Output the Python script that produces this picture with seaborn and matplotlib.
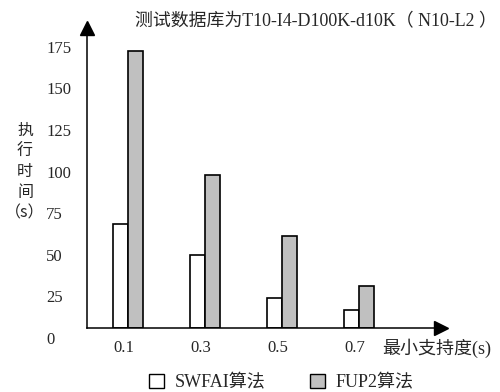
import matplotlib
matplotlib.use("Agg")
import matplotlib.pyplot as plt
from matplotlib.patches import Patch
from matplotlib.transforms import ScaledTranslation
import pandas as pd
import seaborn as sns

# data (seconds, from the x-axis line)
supports = ["0.1", "0.3", "0.5", "0.7"]
swfai = [62.5, 44, 18, 11]
fup2 = [166.5, 92, 55.3, 25.2]
algos = ["SWFAI算法", "FUP2算法"]
y_ticks = [0, 25, 50, 75, 100, 125, 150, 175]

df = pd.DataFrame({
    "support": supports * 2,
    "time": swfai + fup2,
    "algo": [algos[0]] * 4 + [algos[1]] * 4,
})

sns.set_style("white")
fam = ["Liberation Serif", "Noto Sans CJK SC"]
plt.rcParams["font.family"] = fam

fig = plt.figure(figsize=(5, 3.92), dpi=100)
ax = fig.add_axes([0.174, 0.1633, 0.708, 0.7653])

colors = ["white", "#c0c0c0"]
sns.barplot(data=df, x="support", y="time", hue="algo", hue_order=algos,
            palette=colors, edgecolor="black", linewidth=1.2, width=0.39,
            saturation=1, legend=False, ax=ax)

ax.set_xlim(-0.532, 4.065)
ax.set_ylim(0, 180.3)

for s in ["top", "right"]:
    ax.spines[s].set_visible(False)
for s in ["left", "bottom"]:
    ax.spines[s].set_color("black")
    ax.spines[s].set_linewidth(1.1)

# arrow heads on the axes
ax.plot(0, 1, "^k", ms=10, transform=ax.transAxes, clip_on=False)
ax.plot(1, 0, ">k", ms=10, transform=ax.transAxes, clip_on=False)

ax.set_yticks(y_ticks)
ax.set_yticklabels([str(t) for t in y_ticks])
ax.tick_params(axis="y", length=0, pad=29.5, labelsize=12)
ax.tick_params(axis="x", length=0, pad=9, labelsize=12)
off = ScaledTranslation(0, -10 / 100, fig.dpi_scale_trans)
for lbl in ax.get_yticklabels():
    lbl.set_ha("left")
    lbl.set_transform(lbl.get_transform() + off)
xoff = ScaledTranslation(-4 / 100, 0, fig.dpi_scale_trans)
for lbl in ax.get_xticklabels():
    lbl.set_transform(lbl.get_transform() + xoff)

ax.set_xlabel("最小支持度(s)", fontsize=13, ha="left", va="center")
ax.xaxis.set_label_coords(0.833, -0.067)
ax.set_ylabel("执\n行\n时\n间\n（s）", rotation=0, fontsize=11.5,
              ha="center", va="center", linespacing=1.28,
              family=["Noto Sans CJK SC", "Liberation Serif"])
ax.yaxis.set_label_coords(-0.175, 0.52)

fig.text(0.632, 0.944, "测试数据库为T10-I4-D100K-d10K（ N10-L2 ）",
         ha="center", va="center", fontsize=12.9)

handles = [Patch(facecolor=c, edgecolor="black", linewidth=1.0) for c in colors]
fig.legend(handles, algos, loc="center", bbox_to_anchor=(0.563, 0.023),
           ncol=2, frameon=False, fontsize=13, handlelength=0.8,
           handleheight=0.8, handletextpad=0.6, columnspacing=2.5,
           borderaxespad=0, borderpad=0)

fig.savefig("out.png", dpi=100)
